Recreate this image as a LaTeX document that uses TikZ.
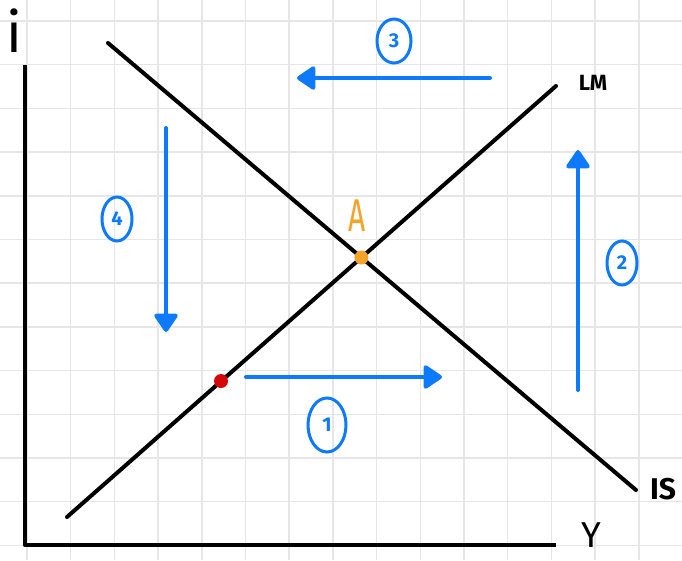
\documentclass[tikz,border=0pt]{standalone}
\usepackage{fontspec}
\setmainfont{Fira Sans}
\usetikzlibrary{arrows.meta,shapes.geometric}

\definecolor{penblue}{RGB}{12,122,250}
\definecolor{penorange}{RGB}{245,162,40}
\definecolor{penred}{RGB}{212,8,8}
\definecolor{gridgray}{RGB}{230,230,230}

\tikzset{
  curve/.style={line width=4pt, line cap=round},
  shiftarrow/.style={penblue, line width=4pt, line cap=round,
    -{Triangle[length=20pt, width=26pt, round]}},
  stepnum/.style={ellipse, draw=penblue, text=penblue, line width=3pt,
    inner sep=0pt, minimum width=30pt, minimum height=44pt,
    font=\fontsize{20}{20}\selectfont\bfseries},
  dot/.style={circle, inner sep=0pt, minimum size=14pt},
  handlabel/.style={inner sep=0pt, font=\fontsize{#1}{#1}\selectfont},
  boldlabel/.style={inner sep=0pt, font=\fontsize{#1}{#1}\selectfont\bfseries}
}

\begin{document}
\begin{tikzpicture}[x=1pt, y=-1pt, >=stealth]
  \useasboundingbox (0,0) rectangle (682,560);
  \fill[white] (0,0) rectangle (682,560);

  % Squared paper
  \foreach \k in {0,...,15}
    \draw[gridgray, line width=1.5pt] ({27+43.7*\k},0) -- ({27+43.7*\k},560);
  \foreach \k in {0,...,12}
    \draw[gridgray, line width=1.5pt] (0,{21+43.7*\k}) -- (682,{21+43.7*\k});

  % Axes
  \coordinate (top) at (25,65);
  \coordinate (origin) at (25,545);
  \coordinate (right) at (556,545);
  \draw[line width=4.5pt, line join=round] (top) -- (origin) -- (right);
  \node[handlabel=56] (ilabel) at (14,31) {i};
  \node[handlabel=36] (ylabel) at (591,535) {Y};

  % IS and LM curves
  \coordinate (is-start) at (108,43);
  \coordinate (is-end) at (636,490);
  \coordinate (lm-start) at (67,517);
  \coordinate (lm-end) at (556,86);
  \draw[curve] (is-start) -- (is-end);
  \draw[curve] (lm-start) -- (lm-end);
  \node[boldlabel=22] (lmlabel) at (593,83) {LM};
  \node[boldlabel=30] (islabel) at (663,489) {IS};

  % Equilibrium and starting point
  \node[dot, fill=penorange] (A) at (intersection of is-start--is-end and lm-start--lm-end) {};
  \node[handlabel=46, text=penorange, xscale=0.65] (Alabel) at (357,216) {A};
  \node[dot, fill=penred] (start) at (221,381) {};

  % Adjustment arrows
  \coordinate (s1) at (246,377);  \coordinate (e1) at (442,377);
  \coordinate (s2) at (578,390);  \coordinate (e2) at (578,150);
  \coordinate (s3) at (490,78);   \coordinate (e3) at (297,78);
  \coordinate (s4) at (166,128);  \coordinate (e4) at (166,332);
  \draw[shiftarrow] (s1) -- (e1);
  \draw[shiftarrow] (s2) -- (e2);
  \draw[shiftarrow] (s3) -- (e3);
  \draw[shiftarrow] (s4) -- (e4);

  % Step numbers
  \node[stepnum, minimum width=38pt, minimum height=54pt] (n1) at (327,425) {1};
  \node[stepnum] (n2) at (622,263) {2};
  \node[stepnum, minimum width=34pt] (n3) at (394,41) {3};
  \node[stepnum] (n4) at (117,219) {4};
\end{tikzpicture}
\end{document}
